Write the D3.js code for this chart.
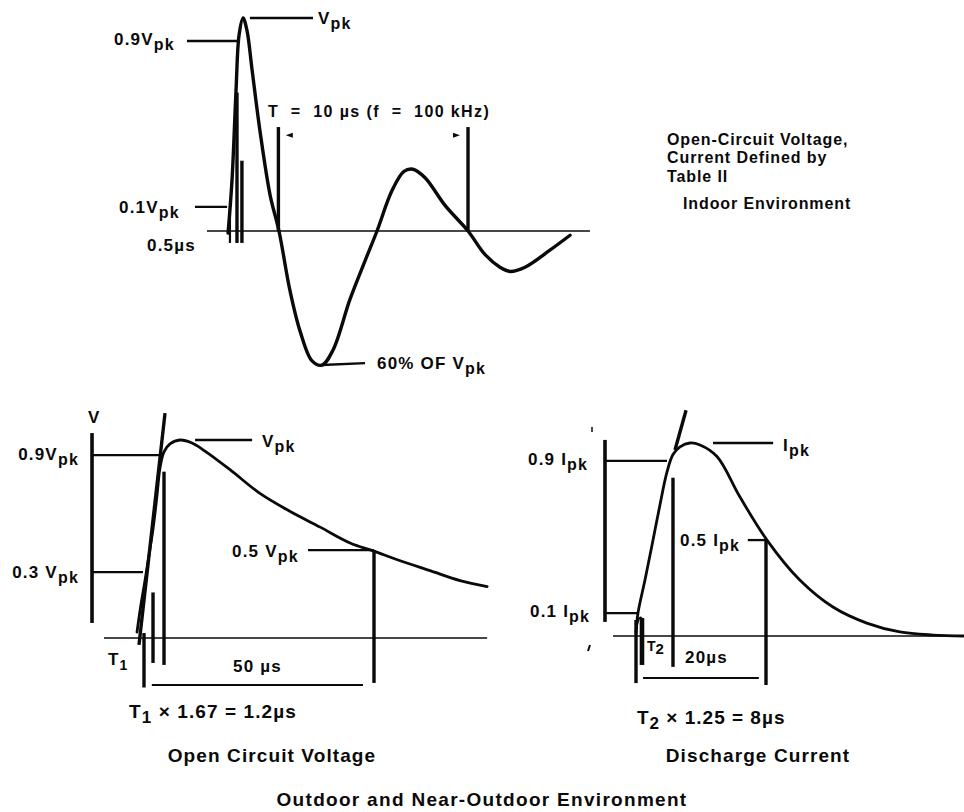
<!DOCTYPE html>
<html><head><meta charset="utf-8">
<script src="https://cdn.jsdelivr.net/npm/d3@7/dist/d3.min.js"></script>
<style>body{margin:0;background:#fff}svg{display:block}text{white-space:pre}</style>
</head><body>
<svg id="c" width="964" height="812"></svg>
<script>
// ---------- DATA (time in µs, value as fraction of peak) ----------
// Indoor 100 kHz ring wave
const ringTime  = [-0.05,0.16,0.37,0.53,0.74,0.95,1.21,1.63,2.16,2.63,3.21,3.74,4.37,4.89,5.47,6.37,7.16,7.79,8.58,9.21,9.68,10.32,11.37,12.58,13.47,14.26,14.79,15.58,16.89,17.95];
const ringValue = [-0.01,0.24,0.66,0.92,1.0,0.94,0.76,0.47,0.17,0,-0.28,-0.47,-0.61,-0.63,-0.56,-0.32,-0.14,0,0.19,0.28,0.29,0.25,0.12,0,-0.11,-0.17,-0.19,-0.17,-0.09,-0.02];
// Outdoor open-circuit voltage 1.2/50 µs
const ocvTime  = [-1.52,-0.65,0.22,1.09,1.96,2.83,3.48,4.35,5.65,7.83,10.43,13.26,18.7,25.2,31.7,38.3,44.8,49.8,55.7,62.2,68.7,74.6];
const ocvValue = [0.03,0.17,0.29,0.42,0.55,0.72,0.86,0.94,0.98,1.0,0.985,0.944,0.85,0.73,0.64,0.56,0.48,0.44,0.39,0.34,0.29,0.26];
// Outdoor discharge current 8/20 µs
const dcTime  = [0,0.31,1.38,2.46,3.69,4.77,5.69,6.77,8.31,9.85,12.46,16.0,20.15,25.2,30.3,35.5,40.6,45.7,50.5];
const dcValue = [0.016,0.12,0.29,0.47,0.68,0.85,0.94,0.98,1.0,0.99,0.93,0.72,0.497,0.29,0.15,0.067,0.021,0.005,0];

// Marker definitions (data units)
const ringLevelV   = [0.892, 0.113];          // 0.9 Vpk, 0.1 Vpk
const ringLevelT0  = [-2.21, -1.79];
const ringLevelT1  = [0.42, -0.1];
const ringTickT    = [0.05, 0.42, 0.68];      // 0.5 µs rise markers
const ringTickTop  = [0.113, 0.65, 0.33];
const ringPeriodT  = [2.6, 12.58];            // T = 10 µs
const ringPeriodTop = 0.488;
const ringSpan     = [-1.16, 19.0];

const ocvLevelV  = [0.924, 0.333, 0.444, 1.0];
const ocvLevelT0 = [-11.3, -11.3, 35.65, 11.1];
const ocvLevelT1 = [3.48, -0.22, 50, 23.5];
const ocvTickT   = [0, 1.96, 4.35, 50];
const ocvTickTop = [0.025, 0.23, 0.84, 0.444];
const ocvTickBot = [-0.25, -0.126, -0.136, -0.227];
const ocvTangentT = [-1.09, 4.57], ocvTangentV = [-0.035, 1.136];
const ocvSpan = [-8.7, 74.6];

const dcLevelV  = [0.907, 0.119, 0.497, 1.0];
const dcLevelT0 = [-4.77, -4.77, 17.2, 11.85];
const dcLevelT1 = [4.77, 0.31, 20, 21.1];
const dcTickT   = [0, 0.92, 5.69, 20];
const dcTickTop = [0.083, 0.093, 0.82, 0.497];
const dcTickBot = [-0.244, -0.15, -0.16, -0.254];
const dcTangentT = [6.0, 7.7], dcTangentV = [0.964, 1.17];
const dcSpan = [-3.54, 50.5];

// ---------- DRAW ----------
const svg = d3.select("#c");
const FONT = "'Liberation Sans', Arial, Helvetica, sans-serif";
const INK = "#0a0a0a";

const ringX = d3.scaleLinear().domain([0,10]).range([229,419]);
const ringY = d3.scaleLinear().domain([0,1]).range([231,18]);
const ocvX  = d3.scaleLinear().domain([0,50]).range([144,374]);
const ocvY  = d3.scaleLinear().domain([0,1]).range([638,440]);
const dcX   = d3.scaleLinear().domain([0,20]).range([636,766]);
const dcY   = d3.scaleLinear().domain([0,1]).range([636,443]);

function seg(x1,y1,x2,y2,w){
  svg.append("line").attr("x1",x1).attr("y1",y1).attr("x2",x2).attr("y2",y2)
    .attr("stroke",INK).attr("stroke-width",w).attr("stroke-linecap","butt");
}
function curve(ts, vs, sx, sy, w){
  const line = d3.line().x(d=>sx(d[0])).y(d=>sy(d[1])).curve(d3.curveCatmullRom.alpha(0.5));
  svg.append("path").attr("d", line(ts.map((t,i)=>[t,vs[i]])))
    .attr("fill","none").attr("stroke",INK).attr("stroke-width",w)
    .attr("stroke-linejoin","round").attr("stroke-linecap","round");
}
function label(x,y,main,sub,opt){
  opt = opt||{};
  const size = opt.size||17;
  const t = svg.append("text").attr("x",x).attr("y",y)
    .attr("font-family",FONT).attr("font-weight","bold").attr("font-size",size)
    .attr("letter-spacing", opt.ls!==undefined?opt.ls:1.2)
    .attr("fill",INK).attr("text-anchor",opt.anchor||"start");
  t.append("tspan").text(main);
  if(sub){
    t.append("tspan").attr("dy",opt.dy||5).attr("font-size",opt.subSize||size-1).text(sub);
    if(opt.after){ t.append("tspan").attr("dy",-(opt.dy||5)).text(opt.after); }
  }
  return t;
}
function arrowHead(x,y,dir){
  svg.append("path").attr("d",`M${x},${y} l${-7*dir},-2.5 l0,5 z`).attr("fill",INK);
}

// ===== Top panel: ring wave =====
seg(ringX(ringSpan[0]), ringY(0), ringX(ringSpan[1]), ringY(0), 1.7);
curve(ringTime, ringValue, ringX, ringY, 3.4);
ringLevelV.forEach((v,i)=> seg(ringX(ringLevelT0[i]), ringY(v), ringX(ringLevelT1[i]), ringY(v), 2.3));
ringTickT.forEach((t,i)=> seg(ringX(t), ringY(ringTickTop[i]), ringX(t), ringY(-0.056), i===0?2.2:3.4));
ringPeriodT.forEach(t=> seg(ringX(t), ringY(ringPeriodTop), ringX(t), ringY(0), 3.4));
arrowHead(ringX(3.2)-4, ringY(0.45), -1);
arrowHead(ringX(12.0)+3, ringY(0.45), 1);
seg(ringX(1.1), ringY(1), ringX(4.42), ringY(1), 2.3);       // Vpk leader
seg(ringX(4.89), ringY(-0.629), ringX(7.16), ringY(-0.62), 2.3); // 60% leader

label(114, 45, "0.9V", "pk");
label(119, 213, "0.1V", "pk");
label(147, 251, "0.5\u00b5s", null);
label(318, 24, "V", "pk");
label(268, 117, "T  =  10 \u00b5s (f  =  100 kHz)", null, {size:16, ls:1.4});
label(377, 369, "60% OF V", "pk");

[["Open-Circuit Voltage,",145,667],["Current Defined by",163,667],["Table II",182,667],["Indoor Environment",209,683]]
  .forEach(d=> label(d[2], d[1], d[0], null, {size:16, ls:0.9}));

// ===== Bottom-left: open-circuit voltage =====
seg(ocvX(ocvSpan[0]), ocvY(0), ocvX(ocvSpan[1]), ocvY(0), 1.7);
seg(ocvX(-11.3), ocvY(1.035), ocvX(-11.3), ocvY(0.076), 3.6);  // V axis
curve(ocvTime, ocvValue, ocvX, ocvY, 2.8);
seg(ocvX(ocvTangentT[0]), ocvY(ocvTangentV[0]), ocvX(ocvTangentT[1]), ocvY(ocvTangentV[1]), 3.4);
ocvLevelV.forEach((v,i)=> seg(ocvX(ocvLevelT0[i]), ocvY(v), ocvX(ocvLevelT1[i]), ocvY(v), 2.3));
ocvTickT.forEach((t,i)=> seg(ocvX(t), ocvY(ocvTickTop[i]), ocvX(t), ocvY(ocvTickBot[i]), 3.4));
seg(ocvX(1.7), ocvY(-0.237), ocvX(47.6), ocvY(-0.237), 2);

label(88, 423, "V", null);
label(79, 460, "0.9V", "pk", {anchor:"end"});
label(79, 578, "0.3 V", "pk", {anchor:"end"});
label(262, 447, "V", "pk");
label(232, 557, "0.5 V", "pk");
label(108, 665, "T", "1", {dy:5, subSize:14});
label(233, 672, "50 \u00b5s", null);

// ===== Bottom-right: discharge current =====
seg(dcX(dcSpan[0]), dcY(0), dcX(dcSpan[1]), dcY(0), 1.7);
seg(dcX(-4.77), dcY(1.016), dcX(-4.77), dcY(0.073), 3.6);   // I axis
curve(dcTime, dcValue, dcX, dcY, 2.8);
seg(dcX(dcTangentT[0]), dcY(dcTangentV[0]), dcX(dcTangentT[1]), dcY(dcTangentV[1]), 3.4);
dcLevelV.forEach((v,i)=> seg(dcX(dcLevelT0[i]), dcY(v), dcX(dcLevelT1[i]), dcY(v), 2.3));
dcTickT.forEach((t,i)=> seg(dcX(t), dcY(dcTickTop[i]), dcX(t), dcY(dcTickBot[i]), i===1?4.6:3.4));
seg(dcX(1.08), dcY(-0.218), dcX(18.9), dcY(-0.218), 2);
// small loop at the T2 origin marker
svg.append("path").attr("d", `M${dcX(0)},${dcY(0.02)} Q${dcX(0.4)},${dcY(0.12)} ${dcX(0.92)},${dcY(0.09)}`)
  .attr("fill","none").attr("stroke",INK).attr("stroke-width",1.8);
// scan specks
seg(592, 427, 592, 432, 1.5);
seg(590, 645, 588, 651, 2);

label(528, 465, "0.9 I", "pk");
label(530, 617, "0.1 I", "pk");
label(783, 451, "I", "pk");
label(680, 546, "0.5 I", "pk");
label(647, 651, "T", "2", {dy:3, subSize:15, size:14, ls:0});
label(685, 663, "20\u00b5s", null);

// ===== Captions =====
label(129, 718, "T", "1", {dy:5, subSize:17, after:" \u00d7 1.67 = 1.2\u00b5s", size:19, ls:1.1});
label(637, 724, "T", "2", {dy:5, subSize:17, after:" \u00d7 1.25 = 8\u00b5s", size:19, ls:1.0});
label(272, 762, "Open Circuit Voltage", null, {size:19, ls:1.1, anchor:"middle"});
label(758, 762, "Discharge Current", null, {size:19, ls:1.1, anchor:"middle"});
label(482, 806, "Outdoor and Near-Outdoor Environment", null, {size:19, ls:1.3, anchor:"middle"});
</script>
</body></html>
